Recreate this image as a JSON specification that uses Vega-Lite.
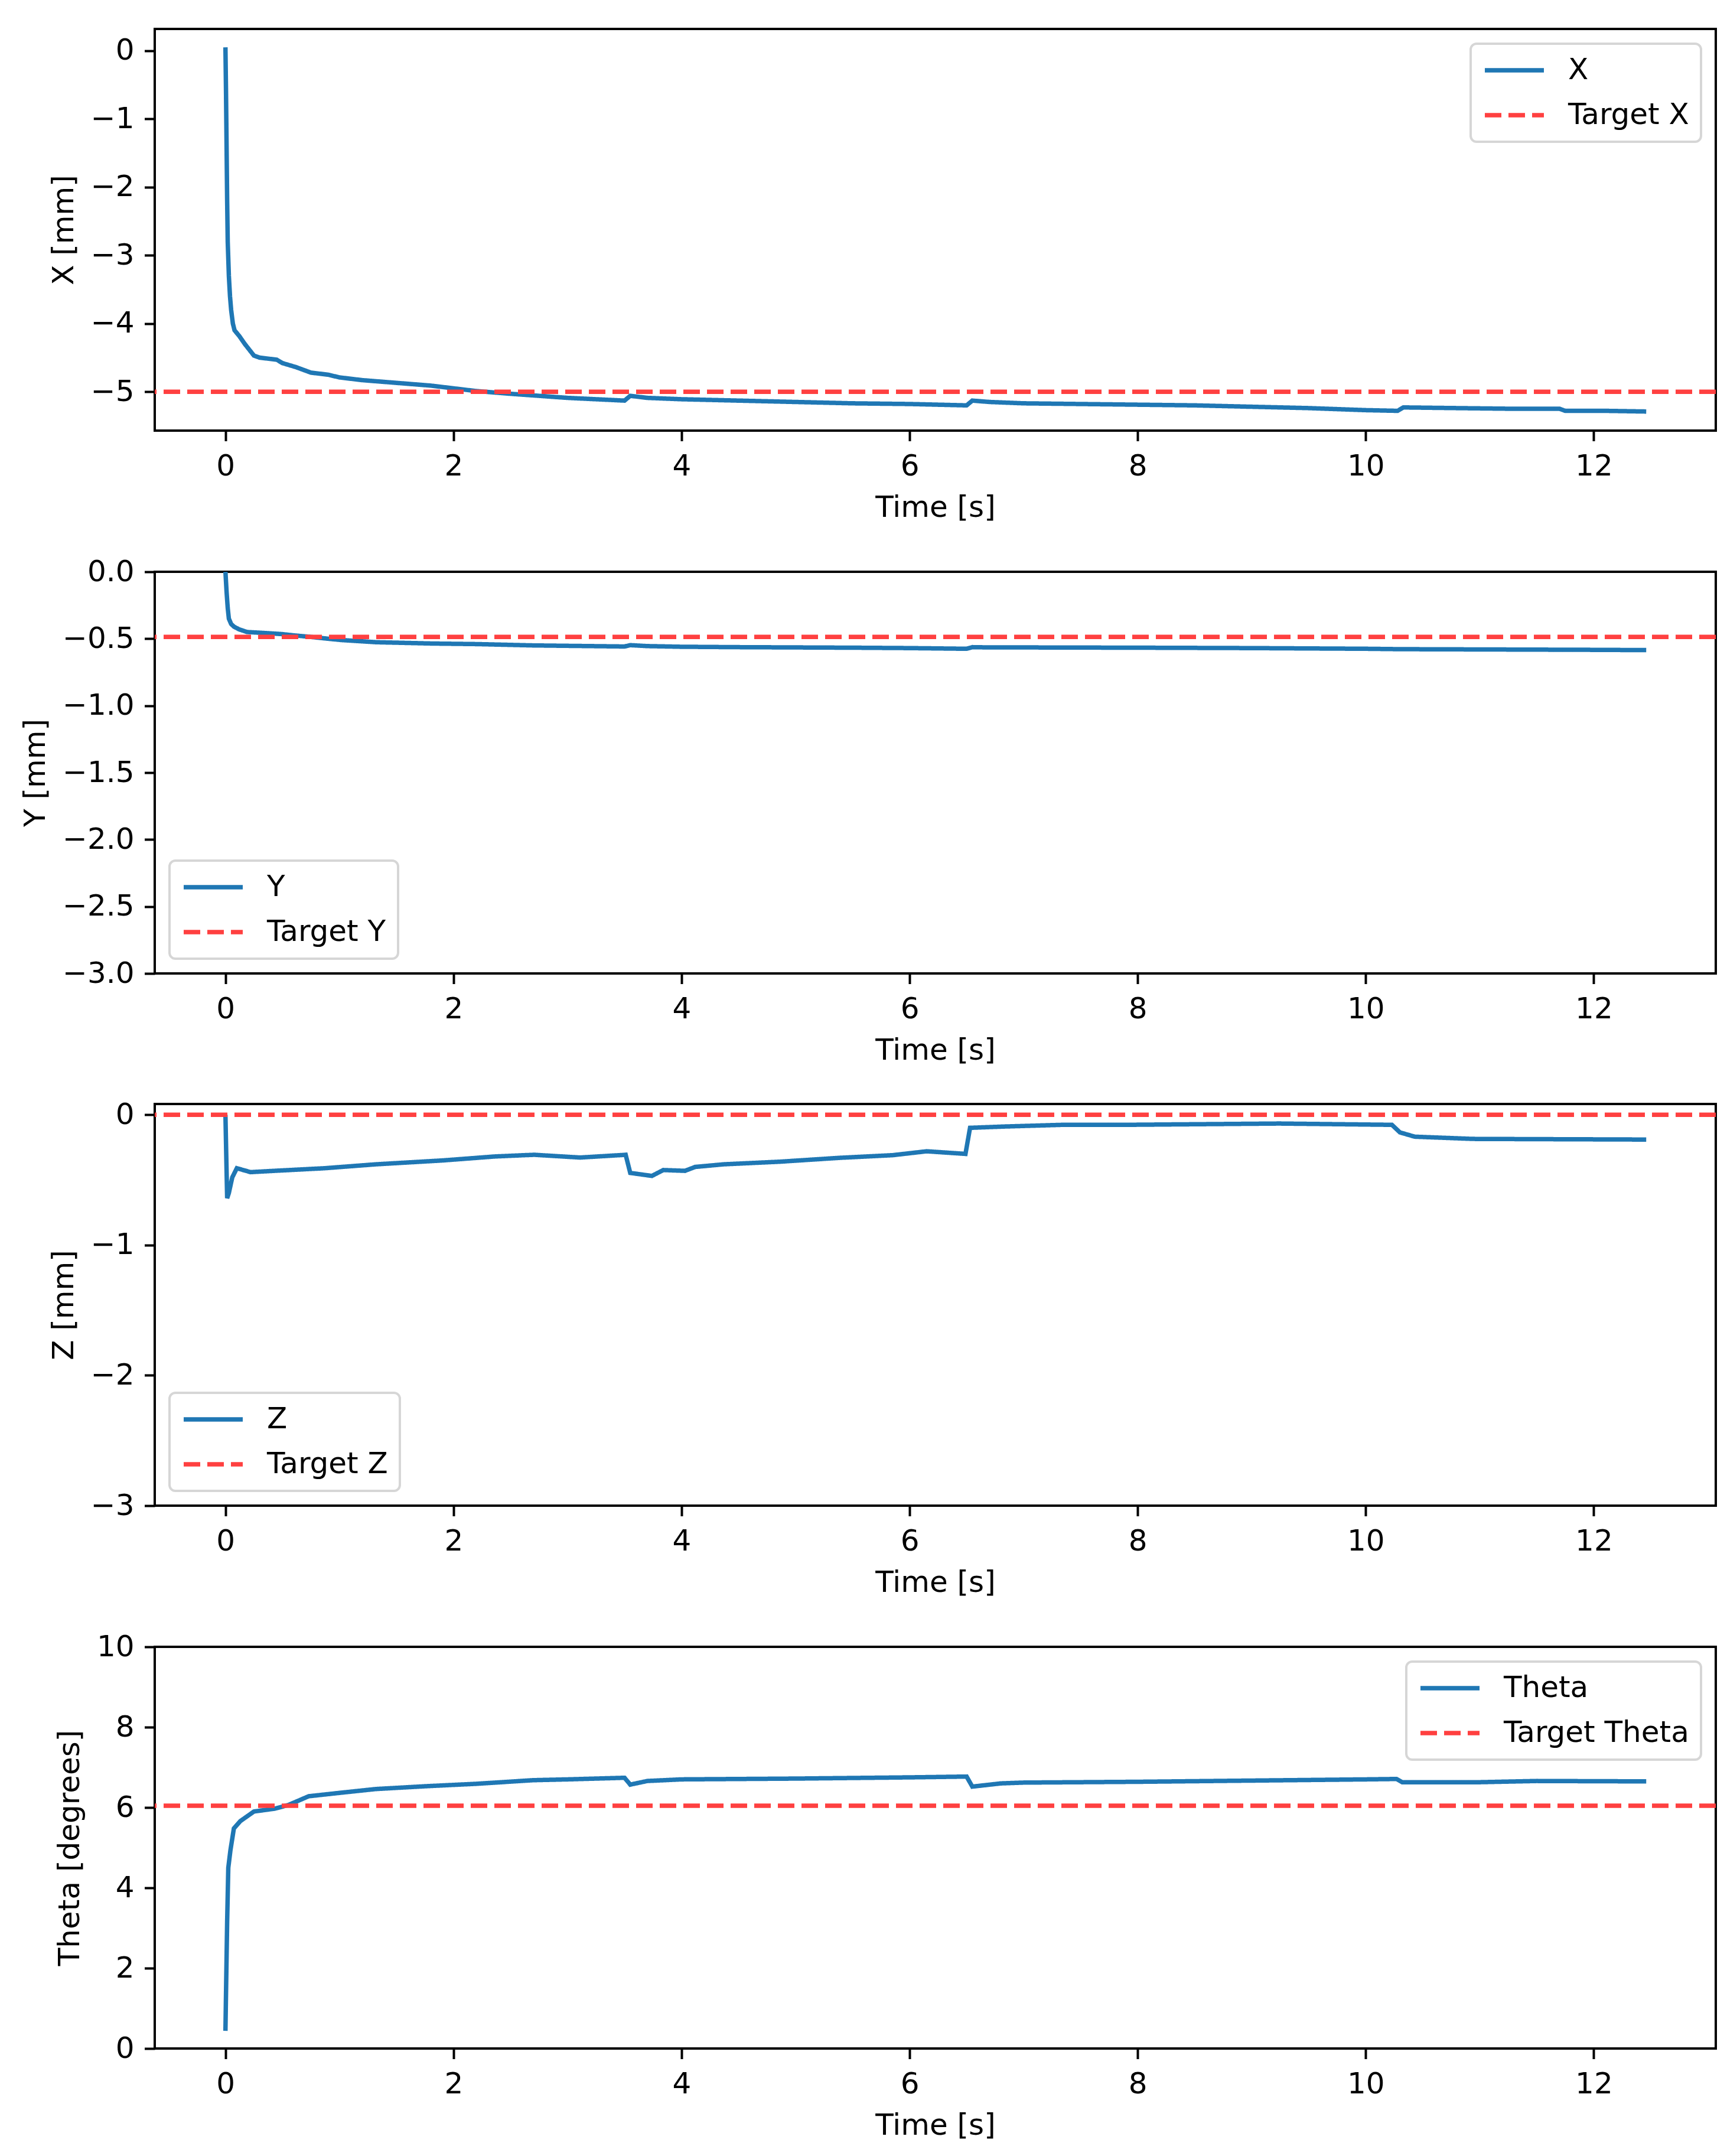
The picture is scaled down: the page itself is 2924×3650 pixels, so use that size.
{
  "$schema": "https://vega.github.io/schema/vega-lite/v6.json",
  "background": "white",
  "padding": {"left": 33, "top": 47, "right": 10, "bottom": 10},
  "spacing": 55,
  "datasets": {
    "x_meas": [
      {"t": 0, "v": 0.05, "series": "X"}, {"t": 0.005, "v": -0.6, "series": "X"}, {"t": 0.01, "v": -1.4, "series": "X"},
      {"t": 0.015, "v": -2.2, "series": "X"}, {"t": 0.02, "v": -2.8, "series": "X"}, {"t": 0.03, "v": -3.3, "series": "X"},
      {"t": 0.04, "v": -3.6, "series": "X"}, {"t": 0.05, "v": -3.8, "series": "X"}, {"t": 0.065, "v": -4.0, "series": "X"},
      {"t": 0.08, "v": -4.1, "series": "X"}, {"t": 0.12, "v": -4.18, "series": "X"}, {"t": 0.17, "v": -4.3, "series": "X"},
      {"t": 0.25, "v": -4.47, "series": "X"}, {"t": 0.3, "v": -4.5, "series": "X"}, {"t": 0.45, "v": -4.53, "series": "X"},
      {"t": 0.5, "v": -4.58, "series": "X"}, {"t": 0.62, "v": -4.64, "series": "X"}, {"t": 0.75, "v": -4.72, "series": "X"},
      {"t": 0.9, "v": -4.75, "series": "X"}, {"t": 1.0, "v": -4.79, "series": "X"}, {"t": 1.2, "v": -4.83, "series": "X"},
      {"t": 1.5, "v": -4.87, "series": "X"}, {"t": 1.8, "v": -4.91, "series": "X"}, {"t": 2.0, "v": -4.95, "series": "X"},
      {"t": 2.2, "v": -4.99, "series": "X"}, {"t": 2.5, "v": -5.03, "series": "X"}, {"t": 2.75, "v": -5.06, "series": "X"},
      {"t": 3.0, "v": -5.09, "series": "X"}, {"t": 3.25, "v": -5.11, "series": "X"}, {"t": 3.5, "v": -5.13, "series": "X"},
      {"t": 3.55, "v": -5.06, "series": "X"}, {"t": 3.7, "v": -5.09, "series": "X"}, {"t": 4.0, "v": -5.11, "series": "X"},
      {"t": 4.5, "v": -5.13, "series": "X"}, {"t": 5.0, "v": -5.15, "series": "X"}, {"t": 5.5, "v": -5.17, "series": "X"},
      {"t": 6.0, "v": -5.18, "series": "X"}, {"t": 6.5, "v": -5.2, "series": "X"}, {"t": 6.55, "v": -5.13, "series": "X"},
      {"t": 6.7, "v": -5.15, "series": "X"}, {"t": 7.0, "v": -5.17, "series": "X"}, {"t": 7.5, "v": -5.18, "series": "X"},
      {"t": 8.0, "v": -5.19, "series": "X"}, {"t": 8.5, "v": -5.2, "series": "X"}, {"t": 9.0, "v": -5.22, "series": "X"},
      {"t": 9.5, "v": -5.24, "series": "X"}, {"t": 10.0, "v": -5.27, "series": "X"}, {"t": 10.28, "v": -5.28, "series": "X"},
      {"t": 10.33, "v": -5.23, "series": "X"}, {"t": 10.8, "v": -5.24, "series": "X"}, {"t": 11.3, "v": -5.25, "series": "X"},
      {"t": 11.7, "v": -5.25, "series": "X"}, {"t": 11.75, "v": -5.28, "series": "X"}, {"t": 12.1, "v": -5.28, "series": "X"},
      {"t": 12.46, "v": -5.29, "series": "X"}
    ],
    "x_target": [{"v": -5.0, "series": "Target X"}],
    "y_meas": [
      {"t": 0, "v": 0.0, "series": "Y"}, {"t": 0.01, "v": -0.15, "series": "Y"}, {"t": 0.02, "v": -0.27, "series": "Y"},
      {"t": 0.03, "v": -0.35, "series": "Y"}, {"t": 0.05, "v": -0.39, "series": "Y"}, {"t": 0.075, "v": -0.41, "series": "Y"},
      {"t": 0.12, "v": -0.43, "series": "Y"}, {"t": 0.19, "v": -0.45, "series": "Y"}, {"t": 0.3, "v": -0.455, "series": "Y"},
      {"t": 0.49, "v": -0.465, "series": "Y"}, {"t": 0.6, "v": -0.475, "series": "Y"}, {"t": 0.73, "v": -0.485, "series": "Y"},
      {"t": 0.9, "v": -0.5, "series": "Y"}, {"t": 1.02, "v": -0.51, "series": "Y"}, {"t": 1.32, "v": -0.526, "series": "Y"},
      {"t": 1.82, "v": -0.536, "series": "Y"}, {"t": 2.2, "v": -0.54, "series": "Y"}, {"t": 2.7, "v": -0.55, "series": "Y"},
      {"t": 3.0, "v": -0.553, "series": "Y"}, {"t": 3.5, "v": -0.558, "series": "Y"}, {"t": 3.55, "v": -0.548, "series": "Y"},
      {"t": 3.7, "v": -0.555, "series": "Y"}, {"t": 4.0, "v": -0.56, "series": "Y"}, {"t": 4.5, "v": -0.563, "series": "Y"},
      {"t": 5.0, "v": -0.565, "series": "Y"}, {"t": 5.5, "v": -0.567, "series": "Y"}, {"t": 6.0, "v": -0.57, "series": "Y"},
      {"t": 6.5, "v": -0.575, "series": "Y"}, {"t": 6.55, "v": -0.563, "series": "Y"}, {"t": 6.7, "v": -0.565, "series": "Y"},
      {"t": 7.0, "v": -0.565, "series": "Y"}, {"t": 8.0, "v": -0.567, "series": "Y"}, {"t": 9.0, "v": -0.57, "series": "Y"},
      {"t": 10.0, "v": -0.575, "series": "Y"}, {"t": 10.3, "v": -0.578, "series": "Y"}, {"t": 11.0, "v": -0.58, "series": "Y"},
      {"t": 12.0, "v": -0.583, "series": "Y"}, {"t": 12.46, "v": -0.585, "series": "Y"}
    ],
    "y_target": [{"v": -0.486, "series": "Target Y"}],
    "z_meas": [
      {"t": 0, "v": 0.0, "series": "Z"}, {"t": 0.008, "v": -0.35, "series": "Z"}, {"t": 0.015, "v": -0.64, "series": "Z"},
      {"t": 0.03, "v": -0.6, "series": "Z"}, {"t": 0.06, "v": -0.48, "series": "Z"}, {"t": 0.1, "v": -0.41, "series": "Z"},
      {"t": 0.14, "v": -0.42, "series": "Z"}, {"t": 0.22, "v": -0.44, "series": "Z"}, {"t": 0.43, "v": -0.43, "series": "Z"},
      {"t": 0.87, "v": -0.41, "series": "Z"}, {"t": 1.32, "v": -0.38, "series": "Z"}, {"t": 1.91, "v": -0.35, "series": "Z"},
      {"t": 2.36, "v": -0.32, "series": "Z"}, {"t": 2.62, "v": -0.31, "series": "Z"}, {"t": 2.71, "v": -0.307, "series": "Z"},
      {"t": 3.11, "v": -0.328, "series": "Z"}, {"t": 3.51, "v": -0.307, "series": "Z"}, {"t": 3.55, "v": -0.446, "series": "Z"},
      {"t": 3.74, "v": -0.469, "series": "Z"}, {"t": 3.84, "v": -0.424, "series": "Z"}, {"t": 4.03, "v": -0.43, "series": "Z"},
      {"t": 4.12, "v": -0.4, "series": "Z"}, {"t": 4.37, "v": -0.38, "series": "Z"}, {"t": 4.86, "v": -0.36, "series": "Z"},
      {"t": 5.39, "v": -0.33, "series": "Z"}, {"t": 5.85, "v": -0.31, "series": "Z"}, {"t": 6.15, "v": -0.28, "series": "Z"},
      {"t": 6.49, "v": -0.3, "series": "Z"}, {"t": 6.53, "v": -0.1, "series": "Z"}, {"t": 6.83, "v": -0.09, "series": "Z"},
      {"t": 7.34, "v": -0.077, "series": "Z"}, {"t": 7.89, "v": -0.077, "series": "Z"}, {"t": 9.24, "v": -0.067, "series": "Z"},
      {"t": 10.23, "v": -0.077, "series": "Z"}, {"t": 10.3, "v": -0.135, "series": "Z"}, {"t": 10.43, "v": -0.168, "series": "Z"},
      {"t": 10.94, "v": -0.185, "series": "Z"}, {"t": 12.46, "v": -0.19, "series": "Z"}
    ],
    "z_target": [{"v": 0.0, "series": "Target Z"}],
    "theta_meas": [
      {"t": 0, "v": 0.44, "series": "Theta"}, {"t": 0.005, "v": 1.38, "series": "Theta"}, {"t": 0.015, "v": 3.16, "series": "Theta"},
      {"t": 0.025, "v": 4.5, "series": "Theta"}, {"t": 0.044, "v": 4.94, "series": "Theta"}, {"t": 0.074, "v": 5.48, "series": "Theta"},
      {"t": 0.13, "v": 5.66, "series": "Theta"}, {"t": 0.25, "v": 5.9, "series": "Theta"}, {"t": 0.43, "v": 5.97, "series": "Theta"},
      {"t": 0.55, "v": 6.06, "series": "Theta"}, {"t": 0.73, "v": 6.28, "series": "Theta"}, {"t": 1.02, "v": 6.37, "series": "Theta"},
      {"t": 1.32, "v": 6.46, "series": "Theta"}, {"t": 1.76, "v": 6.53, "series": "Theta"}, {"t": 2.2, "v": 6.59, "series": "Theta"},
      {"t": 2.7, "v": 6.68, "series": "Theta"}, {"t": 3.0, "v": 6.7, "series": "Theta"}, {"t": 3.5, "v": 6.74, "series": "Theta"},
      {"t": 3.55, "v": 6.57, "series": "Theta"}, {"t": 3.7, "v": 6.66, "series": "Theta"}, {"t": 4.0, "v": 6.7, "series": "Theta"},
      {"t": 5.0, "v": 6.72, "series": "Theta"}, {"t": 6.0, "v": 6.75, "series": "Theta"}, {"t": 6.5, "v": 6.77, "series": "Theta"},
      {"t": 6.55, "v": 6.52, "series": "Theta"}, {"t": 6.8, "v": 6.6, "series": "Theta"}, {"t": 7.0, "v": 6.62, "series": "Theta"},
      {"t": 8.0, "v": 6.64, "series": "Theta"}, {"t": 9.0, "v": 6.67, "series": "Theta"}, {"t": 10.0, "v": 6.7, "series": "Theta"},
      {"t": 10.27, "v": 6.71, "series": "Theta"}, {"t": 10.32, "v": 6.63, "series": "Theta"}, {"t": 11.0, "v": 6.63, "series": "Theta"},
      {"t": 11.5, "v": 6.66, "series": "Theta"}, {"t": 12.46, "v": 6.65, "series": "Theta"}
    ],
    "theta_target": [{"v": 6.045, "series": "Target Theta"}]
  },
  "vconcat": [
    {
      "width": 2643,
      "height": 680,
      "layer": [
        {
          "data": {"name": "x_meas"},
          "mark": {"type": "line", "strokeWidth": 7.5, "clip": true},
          "encoding": {
            "x": {"field": "t", "type": "quantitative", "title": "Time [s]", "scale": {"domain": [-0.62, 13.07], "nice": false, "zero": false}, "axis": {"values": [0, 2, 4, 6, 8, 10, 12], "format": "d"}},
            "y": {"field": "v", "type": "quantitative", "title": "X [mm]", "scale": {"domain": [-5.57, 0.32], "nice": false, "zero": false}, "axis": {"values": [0, -1, -2, -3, -4, -5], "format": "d"}},
            "color": {"field": "series", "type": "nominal", "scale": {"domain": ["X", "Target X"], "range": ["#1f77b4", "#ff4040"]}, "legend": {"orient": "top-right"}},
            "strokeDash": {"field": "series", "type": "nominal", "scale": {"domain": ["X", "Target X"], "range": [[1, 0], [28, 12]]}, "legend": {"orient": "top-right"}}
          }
        },
        {
          "data": {"name": "x_target"},
          "mark": {"type": "rule", "strokeWidth": 7.5},
          "encoding": {
            "y": {"field": "v", "type": "quantitative", "title": "X [mm]"},
            "color": {"field": "series", "type": "nominal", "scale": {"domain": ["X", "Target X"], "range": ["#1f77b4", "#ff4040"]}, "legend": {"orient": "top-right"}},
            "strokeDash": {"field": "series", "type": "nominal", "scale": {"domain": ["X", "Target X"], "range": [[1, 0], [28, 12]]}, "legend": {"orient": "top-right"}}
          }
        }
      ]
    },
    {
      "width": 2643,
      "height": 680,
      "layer": [
        {
          "data": {"name": "y_meas"},
          "mark": {"type": "line", "strokeWidth": 7.5, "clip": true},
          "encoding": {
            "x": {"field": "t", "type": "quantitative", "title": "Time [s]", "scale": {"domain": [-0.62, 13.07], "nice": false, "zero": false}, "axis": {"values": [0, 2, 4, 6, 8, 10, 12], "format": "d"}},
            "y": {"field": "v", "type": "quantitative", "title": "Y [mm]", "scale": {"domain": [-3, 0], "nice": false, "zero": false}, "axis": {"values": [0, -0.5, -1, -1.5, -2, -2.5, -3], "format": ".1f"}},
            "color": {"field": "series", "type": "nominal", "scale": {"domain": ["Y", "Target Y"], "range": ["#1f77b4", "#ff4040"]}, "legend": {"orient": "bottom-left"}},
            "strokeDash": {"field": "series", "type": "nominal", "scale": {"domain": ["Y", "Target Y"], "range": [[1, 0], [28, 12]]}, "legend": {"orient": "bottom-left"}}
          }
        },
        {
          "data": {"name": "y_target"},
          "mark": {"type": "rule", "strokeWidth": 7.5},
          "encoding": {
            "y": {"field": "v", "type": "quantitative", "title": "Y [mm]"},
            "color": {"field": "series", "type": "nominal", "scale": {"domain": ["Y", "Target Y"], "range": ["#1f77b4", "#ff4040"]}, "legend": {"orient": "bottom-left"}},
            "strokeDash": {"field": "series", "type": "nominal", "scale": {"domain": ["Y", "Target Y"], "range": [[1, 0], [28, 12]]}, "legend": {"orient": "bottom-left"}}
          }
        }
      ]
    },
    {
      "width": 2643,
      "height": 680,
      "layer": [
        {
          "data": {"name": "z_meas"},
          "mark": {"type": "line", "strokeWidth": 7.5, "clip": true},
          "encoding": {
            "x": {"field": "t", "type": "quantitative", "title": "Time [s]", "scale": {"domain": [-0.62, 13.07], "nice": false, "zero": false}, "axis": {"values": [0, 2, 4, 6, 8, 10, 12], "format": "d"}},
            "y": {"field": "v", "type": "quantitative", "title": "Z [mm]", "scale": {"domain": [-3, 0.083], "nice": false, "zero": false}, "axis": {"values": [0, -1, -2, -3], "format": "d"}},
            "color": {"field": "series", "type": "nominal", "scale": {"domain": ["Z", "Target Z"], "range": ["#1f77b4", "#ff4040"]}, "legend": {"orient": "bottom-left"}},
            "strokeDash": {"field": "series", "type": "nominal", "scale": {"domain": ["Z", "Target Z"], "range": [[1, 0], [28, 12]]}, "legend": {"orient": "bottom-left"}}
          }
        },
        {
          "data": {"name": "z_target"},
          "mark": {"type": "rule", "strokeWidth": 7.5},
          "encoding": {
            "y": {"field": "v", "type": "quantitative", "title": "Z [mm]"},
            "color": {"field": "series", "type": "nominal", "scale": {"domain": ["Z", "Target Z"], "range": ["#1f77b4", "#ff4040"]}, "legend": {"orient": "bottom-left"}},
            "strokeDash": {"field": "series", "type": "nominal", "scale": {"domain": ["Z", "Target Z"], "range": [[1, 0], [28, 12]]}, "legend": {"orient": "bottom-left"}}
          }
        }
      ]
    },
    {
      "width": 2643,
      "height": 680,
      "layer": [
        {
          "data": {"name": "theta_meas"},
          "mark": {"type": "line", "strokeWidth": 7.5, "clip": true},
          "encoding": {
            "x": {"field": "t", "type": "quantitative", "title": "Time [s]", "scale": {"domain": [-0.62, 13.07], "nice": false, "zero": false}, "axis": {"values": [0, 2, 4, 6, 8, 10, 12], "format": "d"}},
            "y": {"field": "v", "type": "quantitative", "title": "Theta [degrees]", "scale": {"domain": [0, 10], "nice": false, "zero": false}, "axis": {"values": [0, 2, 4, 6, 8, 10], "format": "d"}},
            "color": {"field": "series", "type": "nominal", "scale": {"domain": ["Theta", "Target Theta"], "range": ["#1f77b4", "#ff4040"]}, "legend": {"orient": "top-right"}},
            "strokeDash": {"field": "series", "type": "nominal", "scale": {"domain": ["Theta", "Target Theta"], "range": [[1, 0], [28, 12]]}, "legend": {"orient": "top-right"}}
          }
        },
        {
          "data": {"name": "theta_target"},
          "mark": {"type": "rule", "strokeWidth": 7.5},
          "encoding": {
            "y": {"field": "v", "type": "quantitative", "title": "Theta [degrees]"},
            "color": {"field": "series", "type": "nominal", "scale": {"domain": ["Theta", "Target Theta"], "range": ["#1f77b4", "#ff4040"]}, "legend": {"orient": "top-right"}},
            "strokeDash": {"field": "series", "type": "nominal", "scale": {"domain": ["Theta", "Target Theta"], "range": [[1, 0], [28, 12]]}, "legend": {"orient": "top-right"}}
          }
        }
      ]
    }
  ],
  "resolve": {
    "scale": {"x": "independent", "y": "independent", "color": "independent", "strokeDash": "independent"},
    "legend": {"color": "independent", "strokeDash": "independent"}
  },
  "config": {
    "font": "DejaVu Sans",
    "view": {"stroke": "black", "strokeWidth": 4},
    "axis": {
      "domain": false,
      "grid": false,
      "tickColor": "black",
      "tickWidth": 4,
      "tickSize": 17.5,
      "labelFont": "DejaVu Sans",
      "labelFontSize": 50,
      "labelColor": "black",
      "labelPadding": 17.5,
      "labelFlush": false,
      "labelOverlap": false,
      "titleFont": "DejaVu Sans",
      "titleFontSize": 50,
      "titleFontWeight": "normal",
      "titleColor": "black",
      "titlePadding": 20
    },
    "legend": {
      "title": null,
      "offset": 25,
      "padding": 20,
      "fillColor": "white",
      "strokeColor": "#d6d6d6",
      "strokeWidth": 4,
      "cornerRadius": 10,
      "symbolType": "stroke",
      "symbolSize": 10000,
      "symbolStrokeWidth": 7.5,
      "labelFont": "DejaVu Sans",
      "labelFontSize": 50,
      "labelColor": "black",
      "labelOffset": 37,
      "labelLimit": 0,
      "rowPadding": 26,
      "clipHeight": 50
    }
  }
}
